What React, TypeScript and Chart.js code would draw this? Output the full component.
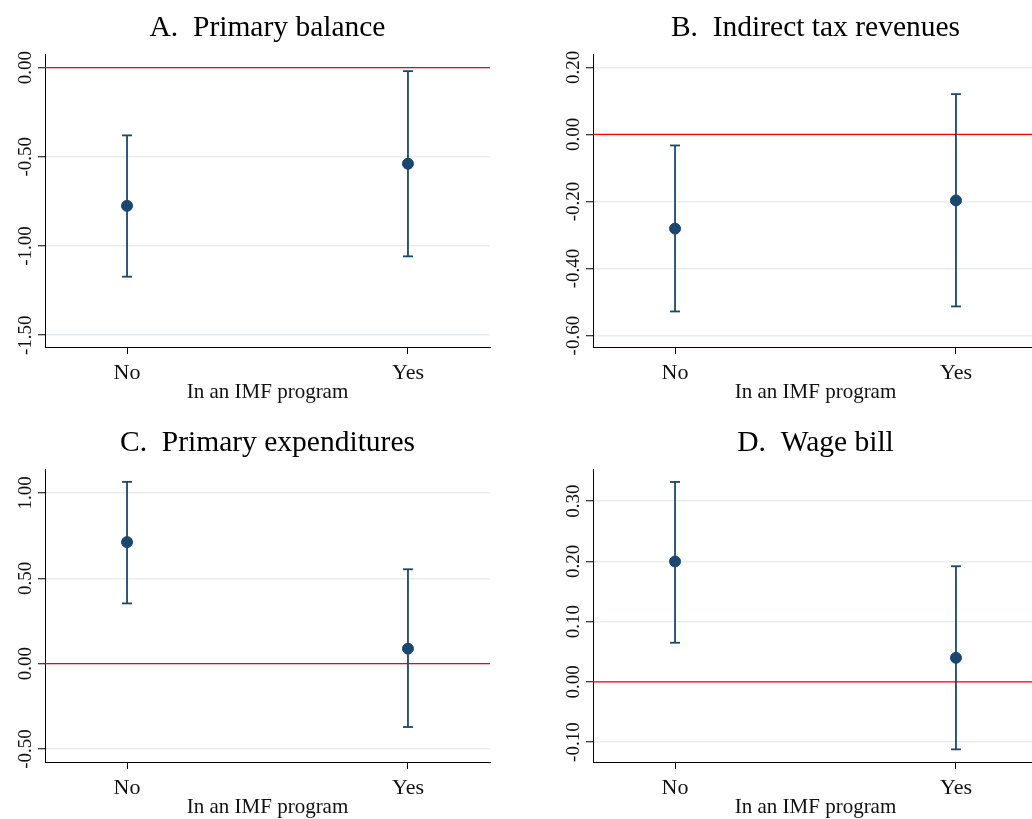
import React, { useEffect, useRef } from "react";
import { Chart, registerables } from "chart.js";

Chart.register(...registerables);

const FONT = "'Liberation Serif', 'Times New Roman', serif";
const NAVY = "#1a476f";
const RED = "#ff0000";
const GRID = "#e6eef0";

const CATEGORIES = ["No", "Yes"];
const X_TITLE = "In an IMF program";
const X_MIN = -0.292;
const X_MAX = 1.292;

// Panel A: Primary balance
const A_TITLE = "A.  Primary balance";
const A_MEAN = [-0.775, -0.539];
const A_LOW = [-1.172, -1.058];
const A_HIGH = [-0.38, -0.02];
const A_TICKS = [-1.5, -1.0, -0.5, 0.0];
const A_MIN = -1.566;
const A_MAX = 0.071;

// Panel B: Indirect tax revenues
const B_TITLE = "B.  Indirect tax revenues";
const B_MEAN = [-0.281, -0.197];
const B_LOW = [-0.528, -0.513];
const B_HIGH = [-0.033, 0.12];
const B_TICKS = [-0.6, -0.4, -0.2, 0.0, 0.2];
const B_MIN = -0.634;
const B_MAX = 0.237;

// Panel C: Primary expenditures
const C_TITLE = "C.  Primary expenditures";
const C_MEAN = [0.712, 0.088];
const C_LOW = [0.353, -0.371];
const C_HIGH = [1.065, 0.553];
const C_TICKS = [-0.5, 0.0, 0.5, 1.0];
const C_MIN = -0.576;
const C_MAX = 1.135;

// Panel D: Wage bill
const D_TITLE = "D.  Wage bill";
const D_MEAN = [0.2, 0.04];
const D_LOW = [0.065, -0.112];
const D_HIGH = [0.332, 0.192];
const D_TICKS = [-0.1, 0.0, 0.1, 0.2, 0.3];
const D_MIN = -0.133;
const D_MAX = 0.352;

type PanelProps = {
  title: string;
  mean: number[];
  low: number[];
  high: number[];
  ticks: number[];
  min: number;
  max: number;
  left: number;
  top: number;
};

const PANEL_W = 516;
const PANEL_H = 410;

function Panel(props: PanelProps) {
  const ref = useRef<HTMLCanvasElement | null>(null);
  useEffect(() => {
    if (!ref.current) return;
    const { title, mean, low, high, ticks, min, max } = props;
    const datasets: any[] = [];
    datasets.push({
      type: "scatter",
      data: CATEGORIES.map((_, i) => ({ x: i, y: mean[i] })),
      pointRadius: 5.5,
      pointHoverRadius: 5.5,
      pointStyle: "circle",
      backgroundColor: NAVY,
      borderColor: NAVY,
      borderWidth: 1,
      order: 1,
    });
    CATEGORIES.forEach((_, i) => {
      datasets.push({
        type: "scatter",
        showLine: true,
        data: [
          { x: i, y: low[i] },
          { x: i, y: high[i] },
        ],
        borderColor: NAVY,
        borderWidth: 1.8,
        pointStyle: "line",
        pointRadius: 5,
        pointHoverRadius: 5,
        pointBorderColor: NAVY,
        pointBorderWidth: 1.8,
        backgroundColor: NAVY,
        order: 2,
      });
    });
    datasets.push({
      type: "scatter",
      showLine: true,
      data: [
        { x: X_MIN, y: 0 },
        { x: X_MAX, y: 0 },
      ],
      borderColor: RED,
      borderWidth: 1.2,
      pointRadius: 0,
      pointHoverRadius: 0,
      order: 3,
    });

    const chart = new Chart(ref.current, {
      type: "scatter",
      data: { datasets },
      options: {
        animation: false,
        responsive: true,
        maintainAspectRatio: false,
        layout: { padding: { left: 0, right: 26, top: 0, bottom: 0 } },
        plugins: {
          legend: { display: false },
          tooltip: { enabled: false },
          title: {
            display: true,
            text: title,
            fullSize: false,
            color: "#000",
            font: { family: FONT, size: 29.5, weight: "normal" as any, lineHeight: 1.2 },
            padding: { top: 10.5, bottom: 9 },
          },
        },
        scales: {
          x: {
            type: "linear",
            min: X_MIN,
            max: X_MAX,
            afterBuildTicks: (scale: any) => {
              scale.ticks = CATEGORIES.map((_, i) => ({ value: i }));
            },
            afterFit: (scale: any) => {
              scale.height = 63;
            },
            ticks: {
              callback: (v: any) => CATEGORIES[Math.round(Number(v))] ?? "",
              color: "#111",
              font: { family: FONT, size: 22 },
              padding: 6,
              maxRotation: 0,
              minRotation: 0,
            },
            grid: {
              drawOnChartArea: false,
              drawTicks: true,
              tickLength: 7,
              tickColor: "#000",
              tickWidth: 1,
            },
            border: { display: true, color: "#000", width: 1 },
            title: {
              display: true,
              text: X_TITLE,
              color: "#111",
              font: { family: FONT, size: 21, lineHeight: 1.2 },
              padding: { top: 0, bottom: 5 },
            },
          },
          y: {
            type: "linear",
            min,
            max,
            afterBuildTicks: (scale: any) => {
              scale.ticks = ticks.map((v) => ({ value: v }));
            },
            afterFit: (scale: any) => {
              scale.width = 45;
            },
            ticks: {
              callback: (v: any) => Number(v).toFixed(2),
              color: "#111",
              font: { family: FONT, size: 19 },
              minRotation: 90,
              maxRotation: 90,
              crossAlign: "center",
              padding: -8,
            },
            grid: {
              color: GRID,
              lineWidth: 1.5,
              drawTicks: true,
              tickLength: 7,
              tickColor: "#000",
              tickWidth: 1,
            },
            border: { display: true, color: "#000", width: 1 },
          },
        },
      } as any,
    });
    return () => chart.destroy();
  }, []);

  return (
    <div
      style={{
        position: "absolute",
        left: props.left,
        top: props.top,
        width: PANEL_W,
        height: PANEL_H,
      }}
    >
      <canvas ref={ref} />
    </div>
  );
}

export default function App() {
  return (
    <div
      style={{
        position: "fixed",
        left: 0,
        top: 0,
        width: 1032,
        height: 819,
        overflow: "hidden",
        background: "#fff",
      }}
    >
      <Panel title={A_TITLE} mean={A_MEAN} low={A_LOW} high={A_HIGH} ticks={A_TICKS} min={A_MIN} max={A_MAX} left={0} top={0} />
      <Panel title={B_TITLE} mean={B_MEAN} low={B_LOW} high={B_HIGH} ticks={B_TICKS} min={B_MIN} max={B_MAX} left={548} top={0} />
      <Panel title={C_TITLE} mean={C_MEAN} low={C_LOW} high={C_HIGH} ticks={C_TICKS} min={C_MIN} max={C_MAX} left={0} top={415} />
      <Panel title={D_TITLE} mean={D_MEAN} low={D_LOW} high={D_HIGH} ticks={D_TICKS} min={D_MIN} max={D_MAX} left={548} top={415} />
    </div>
  );
}
